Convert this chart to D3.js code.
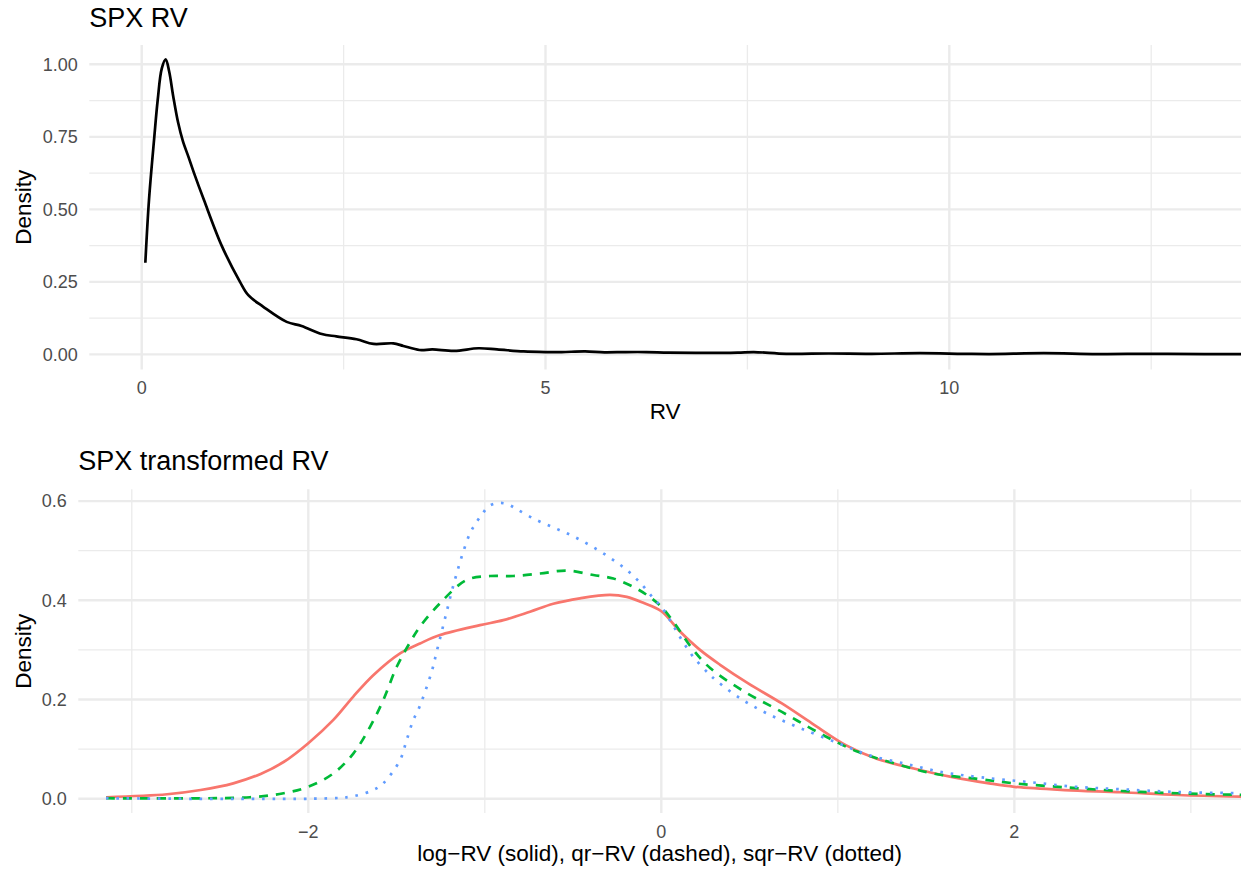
<!DOCTYPE html>
<html><head><meta charset="utf-8">
<script src="https://cdnjs.cloudflare.com/ajax/libs/d3/7.8.5/d3.min.js"></script>
<style>
html,body{margin:0;padding:0;background:#fff;}
svg{display:block;font-family:"Liberation Sans",Arial,Helvetica,sans-serif;}
</style></head>
<body>
<svg id="chart" width="1241" height="873"></svg>
<script>
// ---- Top panel data: SPX RV density ----
const rvX = [0.045,0.09,0.156,0.198,0.248,0.297,0.34,0.39,0.45,0.51,0.58,0.648,0.771,0.99,1.217,1.32,1.506,1.795,1.98,2.23,2.41,2.66,2.87,3.115,3.24,3.44,3.60,3.87,4.17,4.40,4.73,5.0,5.2,5.49,5.73,5.99,6.25,6.52,6.92,7.38,7.58,7.98,8.51,9.04,9.64,10.17,10.5,11.17,11.83,12.5,13.16,13.7];
const rvDensity = [0.316,0.532,0.75,0.877,0.985,1.017,0.975,0.89,0.80,0.735,0.68,0.625,0.532,0.375,0.25,0.204,0.164,0.112,0.098,0.07,0.062,0.052,0.036,0.038,0.029,0.015,0.017,0.012,0.021,0.017,0.010,0.008,0.008,0.010,0.007,0.008,0.008,0.006,0.005,0.006,0.008,0.002,0.003,0.002,0.004,0.002,0.001,0.004,0.001,0.002,0.001,0.001];

// ---- Bottom panel data: transformed RV densities ----
const logX = [-3.146,-2.80,-2.61,-2.425,-2.27,-2.14,-2.0,-1.858,-1.745,-1.632,-1.48,-1.367,-1.254,-1.027,-0.895,-0.744,-0.612,-0.461,-0.291,-0.196,-0.102,0.0,0.106,0.219,0.333,0.49,0.683,0.853,1.045,1.216,1.43,1.643,1.857,2.0,2.284,2.605,2.925,3.30];
const logDensity = [0.003,0.009,0.0175,0.031,0.050,0.074,0.112,0.159,0.206,0.249,0.293,0.313,0.330,0.350,0.360,0.377,0.393,0.404,0.411,0.407,0.395,0.378,0.337,0.300,0.270,0.233,0.192,0.152,0.108,0.081,0.061,0.044,0.031,0.024,0.0175,0.013,0.0075,0.004];

const qrX = [-3.146,-2.33,-2.14,-2.0,-1.858,-1.745,-1.65,-1.575,-1.499,-1.424,-1.367,-1.254,-1.103,-0.97,-0.839,-0.687,-0.536,-0.385,-0.272,-0.159,-0.083,0.0,0.068,0.181,0.278,0.47,0.683,0.897,1.11,1.324,1.538,1.793,2.0,2.284,2.605,2.925,3.30];
const qrDensity = [0.001,0.003,0.011,0.024,0.051,0.091,0.145,0.199,0.266,0.315,0.347,0.394,0.441,0.449,0.449,0.454,0.460,0.451,0.444,0.427,0.411,0.387,0.357,0.300,0.263,0.216,0.175,0.132,0.095,0.071,0.051,0.040,0.031,0.023,0.0155,0.011,0.0075];

const sqrX = [-3.146,-1.86,-1.745,-1.632,-1.575,-1.48,-1.443,-1.405,-1.377,-1.301,-1.273,-1.244,-1.216,-1.188,-1.156,-1.122,-1.084,-1.052,-1.018,-0.98,-0.929,-0.873,-0.82,-0.72,-0.612,-0.504,-0.40,-0.30,-0.206,-0.121,-0.045,0.0,0.059,0.116,0.181,0.266,0.309,0.448,0.598,0.79,1.003,1.174,1.388,1.601,1.815,2.071,2.348,2.605,2.925,3.30];
const sqrDensity = [0.001,0.001,0.005,0.0175,0.031,0.078,0.118,0.159,0.179,0.256,0.296,0.337,0.377,0.417,0.458,0.498,0.535,0.555,0.572,0.589,0.596,0.594,0.584,0.564,0.547,0.530,0.510,0.488,0.464,0.436,0.404,0.387,0.354,0.320,0.286,0.253,0.239,0.202,0.172,0.142,0.112,0.088,0.070,0.053,0.043,0.034,0.024,0.019,0.0135,0.011];

// ---- Tick labels / breaks ----
const topXTicks = [0,5,10];
const topXMinor = [2.5,7.5,12.5];
const topYTicks = [0,0.25,0.5,0.75,1.0];
const topYMinor = [0.125,0.375,0.625,0.875];
const topYLabels = ["0.00","0.25","0.50","0.75","1.00"];
const botXTicks = [-2,0,2];
const botXMinor = [-3,-1,1,3];
const botYTicks = [0,0.2,0.4,0.6];
const botYMinor = [0.1,0.3,0.5];
const botYLabels = ["0.0","0.2","0.4","0.6"];

const svg = d3.select("#chart");
const GRID = "#EBEBEB", TXT = "#4D4D4D";
const fmtMinus = v => String(v).replace("-", "\u2212");

function panel(opt){
  const {x, y, xTicks, xMinor, yTicks, yMinor, yLabels, title, titleY, xTitle, xTitleY, id} = opt;
  const [x0, x1] = x.range();
  const [y1, y0] = y.range();
  const g = svg.append("g");
  g.append("clipPath").attr("id", id).append("rect")
    .attr("x", x0).attr("y", y0).attr("width", x1 - x0).attr("height", y1 - y0);
  g.selectAll(".ymin").data(yMinor).join("line")
    .attr("x1", x0).attr("x2", x1).attr("y1", d => y(d)).attr("y2", d => y(d))
    .attr("stroke", GRID).attr("stroke-width", 1.3);
  g.selectAll(".xmin").data(xMinor).join("line")
    .attr("y1", y0).attr("y2", y1).attr("x1", d => x(d)).attr("x2", d => x(d))
    .attr("stroke", GRID).attr("stroke-width", 1.3);
  g.selectAll(".ymaj").data(yTicks).join("line")
    .attr("x1", x0).attr("x2", x1).attr("y1", d => y(d)).attr("y2", d => y(d))
    .attr("stroke", GRID).attr("stroke-width", 2.4);
  g.selectAll(".xmaj").data(xTicks).join("line")
    .attr("y1", y0).attr("y2", y1).attr("x1", d => x(d)).attr("x2", d => x(d))
    .attr("stroke", GRID).attr("stroke-width", 2.4);
  g.selectAll(".ylab").data(yTicks).join("text")
    .attr("x", x0 - 11.5).attr("y", d => y(d)).attr("dy", "0.35em")
    .attr("text-anchor", "end").attr("font-size", 18).attr("fill", TXT)
    .text((d, i) => yLabels[i]);
  g.selectAll(".xlab").data(xTicks).join("text")
    .attr("x", d => x(d)).attr("y", y1 + 24.7)
    .attr("text-anchor", "middle").attr("font-size", 18).attr("fill", TXT)
    .text(d => fmtMinus(d));
  g.append("text").attr("x", x0).attr("y", titleY).attr("font-size", 27).attr("fill", "#000").text(title);
  g.append("text").attr("x", (x0 + x1) / 2).attr("y", xTitleY)
    .attr("text-anchor", "middle").attr("font-size", 22.5).attr("fill", "#000").text(xTitle);
  g.append("text").attr("transform", `translate(30.5,${(y0 + y1) / 2}) rotate(-90)`)
    .attr("text-anchor", "middle").attr("font-size", 22.5).attr("fill", "#000").text("Density");
  return g.append("g").attr("clip-path", `url(#${id})`);
}

// Top panel
const xTop = d3.scaleLinear().domain([-0.649, 13.612]).range([89.3, 1241]);
const yTop = d3.scaleLinear().domain([-0.0522, 1.0666]).range([369.5, 45]);
const gTop = panel({x: xTop, y: yTop, xTicks: topXTicks, xMinor: topXMinor, yTicks: topYTicks,
  yMinor: topYMinor, yLabels: topYLabels, title: "SPX RV", titleY: 26.5, xTitle: "RV", xTitleY: 419, id: "clipTop"});
const lineTop = d3.line().x(d => xTop(d[0])).y(d => yTop(d[1])).curve(d3.curveCatmullRom.alpha(0.5));
gTop.append("path").datum(d3.zip(rvX, rvDensity)).attr("d", lineTop)
  .attr("fill", "none").attr("stroke", "#000").attr("stroke-width", 2.7);

// Bottom panel
const xBot = d3.scaleLinear().domain([-3.303, 3.284]).range([78.3, 1241]);
const yBot = d3.scaleLinear().domain([-0.0288, 0.6238]).range([813, 489.3]);
const gBot = panel({x: xBot, y: yBot, xTicks: botXTicks, xMinor: botXMinor, yTicks: botYTicks,
  yMinor: botYMinor, yLabels: botYLabels, title: "SPX transformed RV", titleY: 470,
  xTitle: "log\u2212RV (solid), qr\u2212RV (dashed), sqr\u2212RV (dotted)", xTitleY: 861, id: "clipBot"});
const lineBot = d3.line().x(d => xBot(d[0])).y(d => yBot(d[1])).curve(d3.curveCatmullRom.alpha(0.5));
const series = [
  {x: logX, y: logDensity, color: "#F8766D", dash: null},
  {x: qrX, y: qrDensity, color: "#00BA38", dash: "9,8"},
  {x: sqrX, y: sqrDensity, color: "#619CFF", dash: "2.6,7.8"}
];
series.forEach(s => {
  gBot.append("path").datum(d3.zip(s.x, s.y)).attr("d", lineBot)
    .attr("fill", "none").attr("stroke", s.color).attr("stroke-width", 2.7)
    .attr("stroke-dasharray", s.dash);
});
</script>
</body></html>
